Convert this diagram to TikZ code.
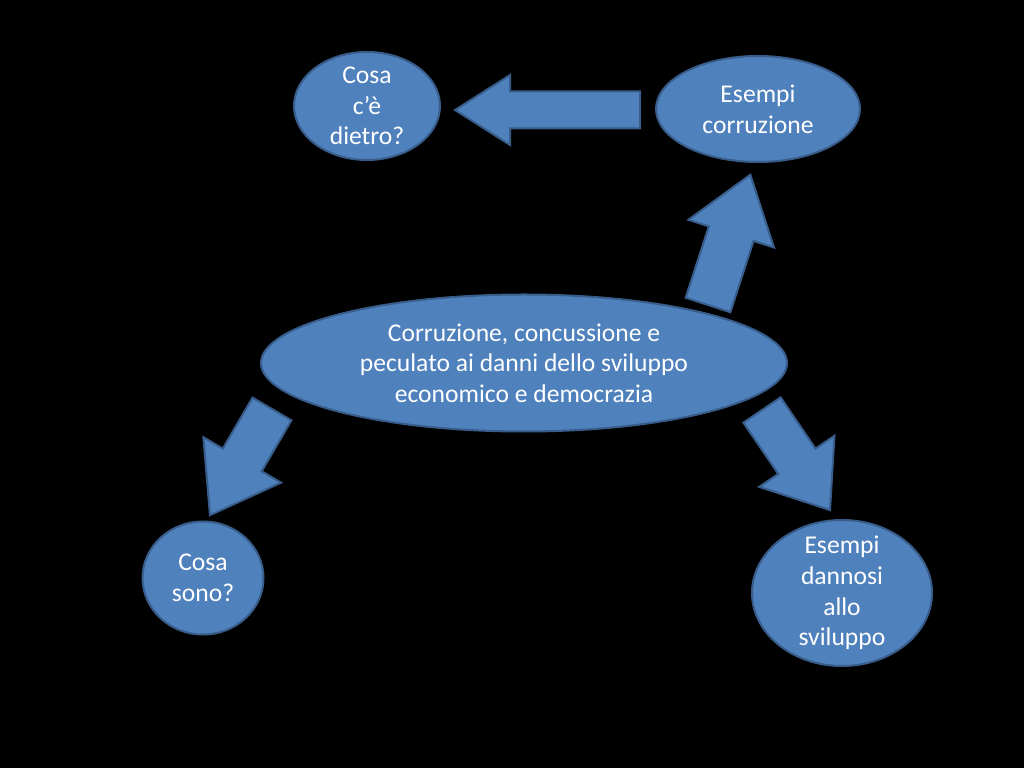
\documentclass[tikz,border=0pt]{standalone}
\usepackage{fontspec}
\setmainfont{Carlito}
\usetikzlibrary{shapes.geometric}
\definecolor{azzurro}{HTML}{4F81BD}
\definecolor{bordoblu}{HTML}{385D8A}
\tikzset{
	bolla/.style={ellipse, fill=azzurro, draw=bordoblu, line width=2pt, inner sep=-20pt, text=white, align=center, font=\fontsize{25.6}{30.7}\selectfont},
	% lunghezza, larghezza asta, larghezza punta, lunghezza punta
	pics/freccia/.style n args={4}{code={
		\filldraw[fill=azzurro, draw=bordoblu, line width=2pt, line join=miter]
		(0,-#2/2)--({#1-#4},-#2/2)--({#1-#4},-#3/2)--(#1,0)--({#1-#4},#3/2)--({#1-#4},#2/2)--(0,#2/2)--cycle;
	}}
}
\begin{document}
\begin{tikzpicture}[x=1pt, y=1pt]
	\fill[black] (0,0) rectangle (1024,768);
	\useasboundingbox (0,0) rectangle (1024,768);
	% bolle
	\node[bolla, minimum width=526, minimum height=137] (centro) at (524,405) {Corruzione, concussione e\\peculato ai danni dello sviluppo\\economico e democrazia};
	\node[bolla, minimum width=146, minimum height=108] (dietro) at (367,662) {Cosa\\c’è\\dietro?};
	\node[bolla, minimum width=204, minimum height=106] (esempi) at (758,659) {Esempi\\corruzione};
	\node[bolla, minimum width=121, minimum height=113] (sono) at (203,190) {Cosa\\sono?};
	\node[bolla, minimum width=180, minimum height=146] (dannosi) at (842,175) {Esempi\\dannosi\\allo\\sviluppo};
	% frecce
	\pic[rotate=180] at (640,658) {freccia={185}{37}{70}{55}};
	\pic[rotate=72] at (708,463) {freccia={137}{47}{90}{62}};
	\pic[rotate=239.7] at (272,359) {freccia={123}{45}{90}{64}};
	\pic[rotate=-55.8] at (762,358) {freccia={121}{45}{91}{59}};
\end{tikzpicture}
\end{document}
